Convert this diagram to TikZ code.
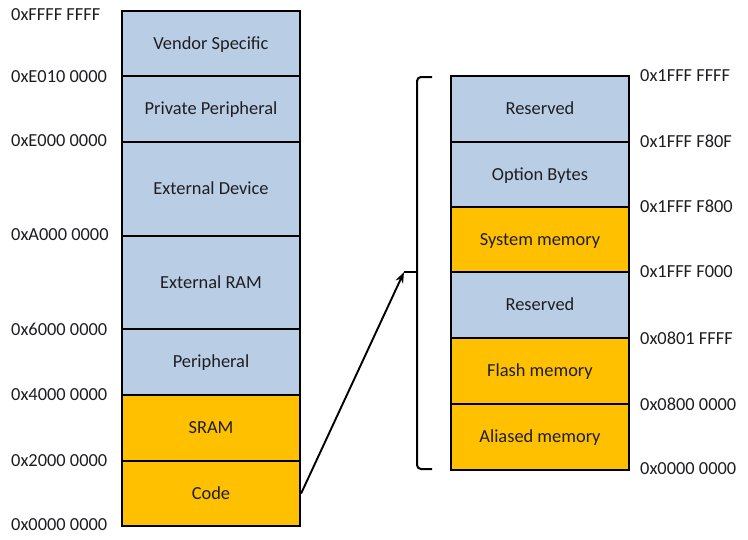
\documentclass[tikz,border=0pt]{standalone}
\usepackage{fontspec}
\setmainfont{Carlito}
\usepackage{xcolor}
\usepackage{tikz}
\usetikzlibrary{positioning, arrows.meta}
\definecolor{mblue}{RGB}{185,205,229}
\definecolor{myellow}{RGB}{255,192,0}
\definecolor{mtext}{RGB}{30,30,34}

\begin{document}
\begin{tikzpicture}[x=1pt, y=-1pt,
        every node/.style={font=\fontsize{18.4}{21}\selectfont, text=mtext},
        blk/.style={draw, line width=2.2pt, minimum width=178pt, inner sep=0pt,
          text height=13pt, text depth=2pt},
        addr/.style={anchor=west, inner sep=0pt},
        arr/.style={-{Stealth[length=11pt, width=8pt]}, line width=1.9pt}]
      \useasboundingbox (0,0) rectangle (748,539);

      % full address map
      \node[blk, fill=mblue, minimum height=65pt] (vendor) at (211,43.5) {Vendor Specific};
      \node[blk, fill=mblue, minimum height=66pt] (ppb) at (211,109) {Private Peripheral};
      \node[blk, fill=mblue, minimum height=94pt] (extdev) at (211,189) {External Device};
      \node[blk, fill=mblue, minimum height=93pt] (extram) at (211,282.5) {External RAM};
      \node[blk, fill=mblue, minimum height=66pt] (periph) at (211,362) {Peripheral};
      \node[blk, fill=myellow, minimum height=66pt] (sram) at (211,428) {SRAM};
      \node[blk, fill=myellow, minimum height=65pt] (code) at (211,493.5) {Code};

      \node[addr] (a7) at (11,15) {0xFFFF FFFF};
      \node[addr] (a6) at (11,77) {0xE010 0000};
      \node[addr] (a5) at (11,141) {0xE000 0000};
      \node[addr] (a4) at (11,235) {0xA000 0000};
      \node[addr] (a3) at (11,329) {0x6000 0000};
      \node[addr] (a2) at (11,395) {0x4000 0000};
      \node[addr] (a1) at (11,461) {0x2000 0000};
      \node[addr] (a0) at (11,525) {0x0000 0000};

      % code region detail
      \node[blk, fill=mblue, minimum height=66pt] (res1) at (540,109) {Reserved};
      \node[blk, fill=mblue, minimum height=65pt] (optb) at (540,174.5) {Option Bytes};
      \node[blk, fill=myellow, minimum height=65pt] (sysmem) at (540,239.5) {System memory};
      \node[blk, fill=mblue, minimum height=66pt] (res2) at (540,305) {Reserved};
      \node[blk, fill=myellow, minimum height=66pt] (flash) at (540,371) {Flash memory};
      \node[blk, fill=myellow, minimum height=66pt] (alias) at (540,437) {Aliased memory};

      \node[addr] (b6) at (640,76) {0x1FFF FFFF};
      \node[addr] (b5) at (640,141) {0x1FFF F80F};
      \node[addr] (b4) at (640,206) {0x1FFF F800};
      \node[addr] (b3) at (640,272) {0x1FFF F000};
      \node[addr] (b2) at (640,338) {0x0801 FFFF};
      \node[addr] (b1) at (640,404) {0x0800 0000};
      \node[addr] (b0) at (640,469) {0x0000 0000};

      % bracket
      \draw[line width=2pt, rounded corners=4pt] (432,77) -- (417,77) -- (417,469) -- (432,469);
      \coordinate (brk) at (404,272);
      \draw[line width=2pt] (417,272) -- (brk);

      \draw[arr] (code.east) -- (brk);
    \end{tikzpicture}
\end{document}
